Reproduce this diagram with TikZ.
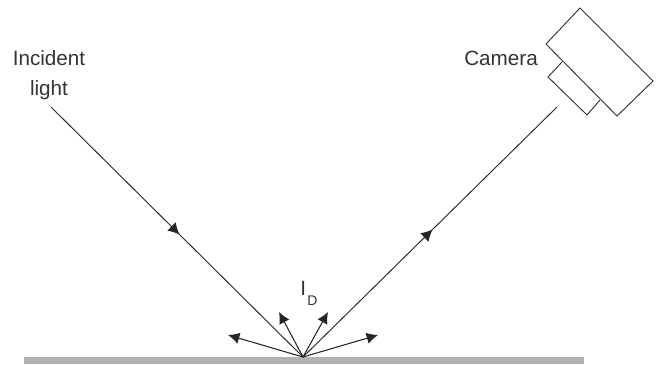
\documentclass[tikz,border=0pt]{standalone}
\usepackage{fontspec}
\setmainfont{Liberation Sans}
\usetikzlibrary{arrows.meta,decorations.markings}

\tikzset{
  label/.style={font=\fontsize{15.5}{19}\selectfont,text=black!80,inner sep=0pt,align=center},
  ray/.style={line width=0.7pt,black!85,postaction={decorate},
    decoration={markings,mark=at position #1 with {\arrow{Latex[length=8.5pt,width=9pt]}}}},
  scatter/.style={line width=0.8pt,black!85,-{Latex[length=8.5pt,width=8.5pt]}},
  outline/.style={line width=0.7pt,black!80},
}

\begin{document}
\begin{tikzpicture}[x=0.75pt,y=-0.75pt]
  \useasboundingbox (0,0) rectangle (656,364);
  % surface
  \fill[black!30] (24,357) rectangle (584,364);
  % rays
  \coordinate (hit) at (303,357);
  \coordinate (source) at (51,107);
  \coordinate (lens) at (557,107);
  \draw[ray=0.51] (source)--(hit);
  \draw[ray=0.51] (hit)--(lens);
  % diffuse part
  \coordinate (d1) at (228,335); \coordinate (d2) at (279,312);
  \coordinate (d3) at (328,312); \coordinate (d4) at (378,335);
  \foreach \tip in {d1,d2,d3,d4} \draw[scatter] (hit)--(\tip);
  % camera
  \draw[outline] (580,8)--(546,44)--(617,116)--(653,81)--cycle;
  \draw[outline] (562,62)--(548,77)--(587,115)--(600,100);
  % labels
  \node[label] (incident) at (49,75) {Incident\\[3pt]light};
  \node[label] (camera) at (501,58) {Camera};
  \node[label,anchor=base west] (diffuse) at (300,295) {I\hspace{1pt}\raisebox{-8pt}{\fontsize{10.5}{12}\selectfont D}};
\end{tikzpicture}
\end{document}
